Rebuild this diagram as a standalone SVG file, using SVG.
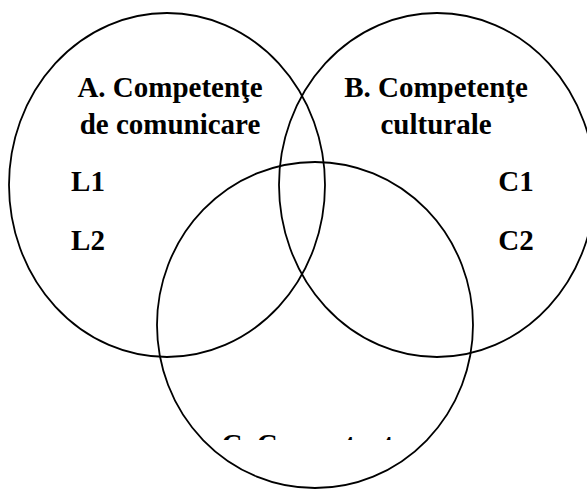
<svg xmlns="http://www.w3.org/2000/svg" width="587" height="489" viewBox="0 0 587 489">
<style>
.c{fill:none;stroke:#000;stroke-width:1.8}
.t{font-family:"Liberation Serif","Times New Roman",serif;font-weight:bold;font-size:29px;fill:#000;text-anchor:middle}
</style>
<defs><clipPath id="clipC"><rect x="0" y="0" width="587" height="440"/></clipPath></defs>
<rect width="587" height="489" fill="#fff"/>
<g id="nodeA">
<ellipse class="c" cx="167" cy="185" rx="158" ry="172"/>
<text class="t" x="170" y="97">A. Competenţe</text>
<text class="t" x="170" y="134">de comunicare</text>
<text class="t" x="88" y="191">L1</text>
<text class="t" x="88" y="250">L2</text>
</g>
<g id="nodeB">
<ellipse class="c" cx="437" cy="185" rx="158" ry="172"/>
<text class="t" x="436" y="97">B. Competenţe</text>
<text class="t" x="436" y="134">culturale</text>
<text class="t" x="516" y="191">C1</text>
<text class="t" x="516" y="250">C2</text>
</g>
<g id="nodeC">
<ellipse class="c" cx="315" cy="325" rx="158" ry="163"/>
<text class="t" x="314" y="454" clip-path="url(#clipC)">C. Competenţe</text>
</g>
<g id="connectors"></g>
</svg>
